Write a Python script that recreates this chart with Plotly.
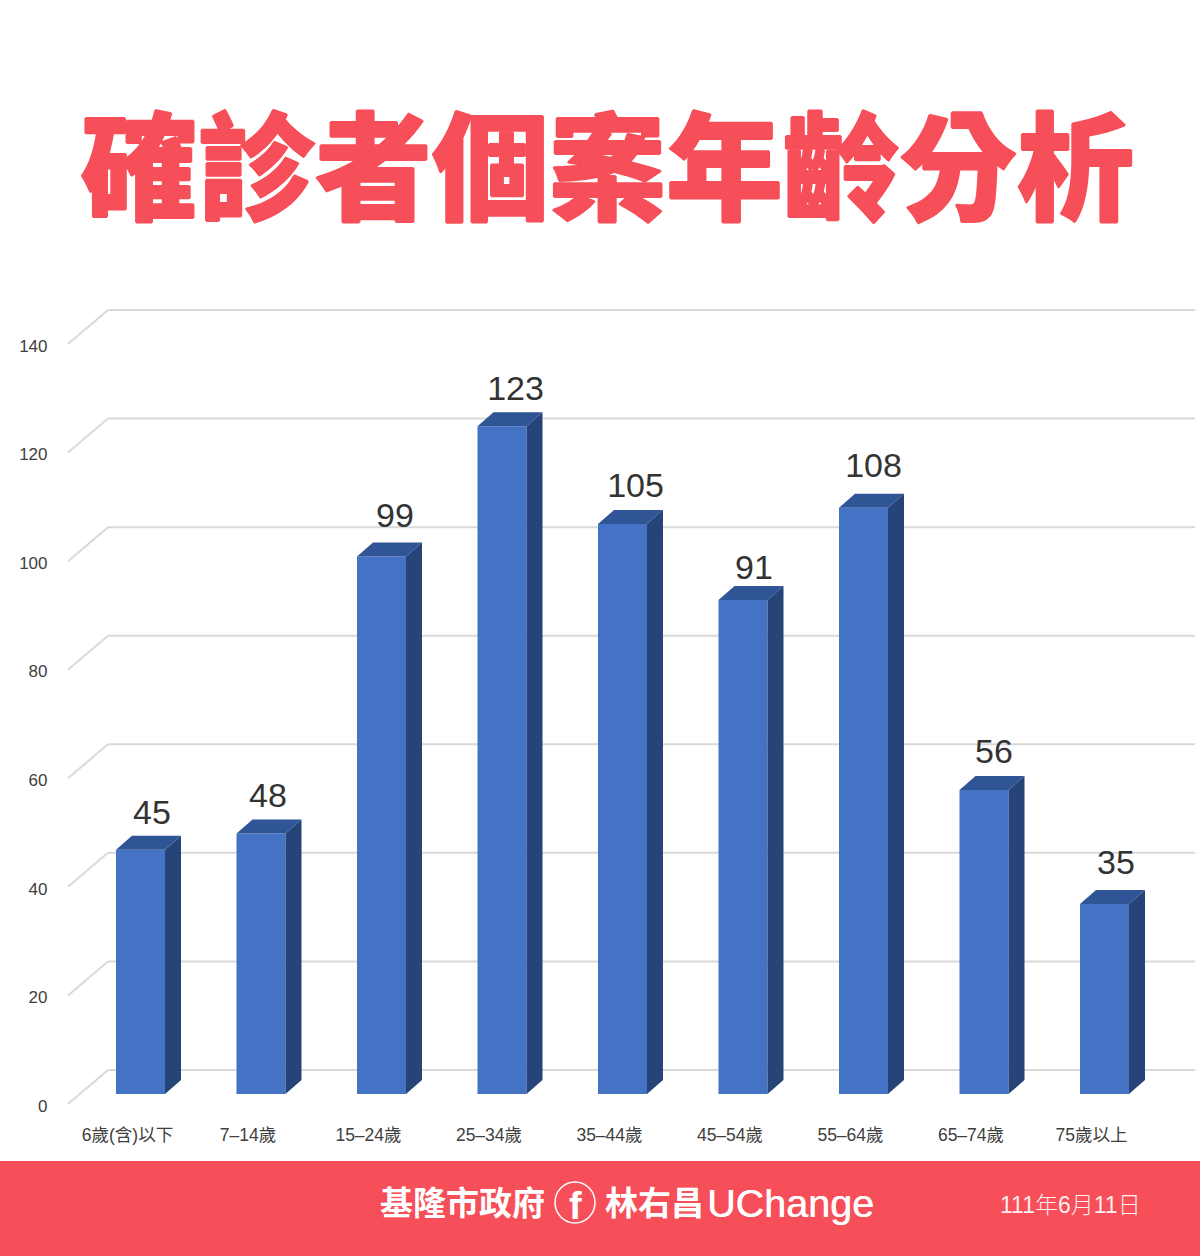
import plotly.graph_objects as go

categories = ["6歲(含)以下", "7–14歲", "15–24歲", "25–34歲", "35–44歲", "45–54歲", "55–64歲", "65–74歲", "75歲以上"]
values = [45, 48, 99, 123, 105, 91, 108, 56, 35]
y_ticks = [0, 20, 40, 60, 80, 100, 120, 140]
# hand-placed value label offsets from the bar's top-centre, pixels
label_dx = [11.5, 7, 13.5, 13.5, 13, 11, 10, 10, 11.5]
label_dy = [34, 35, 38, 35, 36, 30, 39, 36, 39]

W, H = 1200, 1256
PX_X = 120.5           # pixels per category
PX_Y = 5.4286          # pixels per value unit
ORIGIN_X, ORIGIN_Y = 140.5, 1094
RED = "#F74F59"
CJK = "Noto Sans CJK TC"
LAT = "Liberation Sans, Noto Sans CJK TC"
pos = list(range(len(values)))

def dx(px): return px / PX_X
def dy(px): return px / PX_Y

BAR_W = dx(49)
DEPTH_X, DEPTH_Y = dx(16), dy(14)

shapes = [dict(type="rect", xref="paper", yref="paper", x0=0, x1=1, y0=0, y1=95 / H,
               fillcolor=RED, line=dict(width=0), layer="below")]
for t in y_ticks:
    xa, ya = dx(68 - ORIGIN_X), t - dy(10)
    xb, yb = dx(108 - ORIGIN_X), t + dy(24)
    xc = dx(1195 - ORIGIN_X)
    for (x0, y0, x1, y1) in [(xa, ya, xb, yb), (xb, yb, xc, yb)]:
        shapes.append(dict(type="line", x0=x0, y0=y0, x1=x1, y1=y1, layer="below",
                           line=dict(color="#D9D9D9", width=2)))
shapes.append(dict(type="circle", xref="paper", yref="paper", x0=555 / W, x1=595 / W,
                   y0=1 - 1223 / H, y1=1 - 1182 / H, line=dict(color="#FFFFFF", width=1.5)))

side_x, side_y, top_x, top_y = [], [], [], []
for p, v in zip(pos, values):
    r, l = p + BAR_W / 2, p - BAR_W / 2
    side_x += [r, r + DEPTH_X, r + DEPTH_X, r, r, None]
    side_y += [0, DEPTH_Y, v + DEPTH_Y, v, 0, None]
    top_x += [l, l + DEPTH_X, r + DEPTH_X, r, l, None]
    top_y += [v, v + DEPTH_Y, v + DEPTH_Y, v, v, None]

fig = go.Figure()
fig.add_bar(x=pos, y=values, width=BAR_W, marker=dict(color="#4472C4", line_width=0))
fig.add_scatter(x=side_x, y=side_y, fill="toself", mode="lines", fillcolor="#264478",
                line=dict(width=0, color="#264478"))
fig.add_scatter(x=top_x, y=top_y, fill="toself", mode="lines", fillcolor="#2F5597",
                line=dict(width=0, color="#2F5597"))
# value labels
fig.add_scatter(x=[p + dx(a) for p, a in zip(pos, label_dx)],
                y=[v + dy(b) for v, b in zip(values, label_dy)], mode="text",
                text=[str(v) for v in values], textposition="middle center",
                textfont=dict(family=LAT, size=34, color="#333333"))
# y tick labels
fig.add_scatter(x=[dx(47.5 - ORIGIN_X)] * len(y_ticks), y=[t - dy(13.5) for t in y_ticks], mode="text",
                text=[str(t) for t in y_ticks], textposition="middle left",
                textfont=dict(family=LAT, size=17, color="#404040"))
# category labels
fig.add_scatter(x=[p - dx(13) for p in pos], y=[dy(1094 - 1137)] * len(pos), mode="text",
                text=categories, textposition="middle center",
                textfont=dict(family=LAT, size=17.5, color="#404040"))


def note(text, px, py, size, color, weight=400, shadow="none", family=CJK):
    fig.add_annotation(text=text, xref="paper", yref="paper", x=px / W, y=1 - py / H,
                       xanchor="center", yanchor="middle", showarrow=False,
                       font=dict(family=family, size=size, color=color, weight=weight, shadow=shadow))


thick = ",".join(f"{a}px {b}px 0 {RED}" for a, b in [(1, 0), (-1, 0), (0, 1), (0, -1)])
note("確診者個案年齡分析", 607.5, 160, 117, RED, 900, shadow=thick)
note("基隆市政府", 463, 1201, 33, "#FFFFFF", 700)
note("林右昌", 655, 1201, 33, "#FFFFFF", 700)
note("UChange", 790, 1203, 39.5, "#FFFFFF", 400, family="Liberation Sans", shadow="0.5px 0 0 #FFFFFF")
note("111年6月11日", 1070, 1205, 23, "rgba(255,255,255,0.92)", 300, family=LAT)
note("f", 575, 1206, 38, "#FFFFFF", 700, family="Liberation Sans")

fig.update_layout(
    width=W, height=H, margin=dict(l=0, r=0, t=0, b=0), showlegend=False,
    paper_bgcolor="white", plot_bgcolor="rgba(0,0,0,0)", hovermode=False, shapes=shapes,
    xaxis=dict(visible=False, range=[-ORIGIN_X / PX_X, (W - ORIGIN_X) / PX_X]),
    yaxis=dict(visible=False, range=[-(H - ORIGIN_Y) / PX_Y, ORIGIN_Y / PX_Y]),
)
fig.write_html("out.html", config={"displayModeBar": False},
               post_script="document.body.style.margin='0';document.documentElement.style.overflow='hidden';")
